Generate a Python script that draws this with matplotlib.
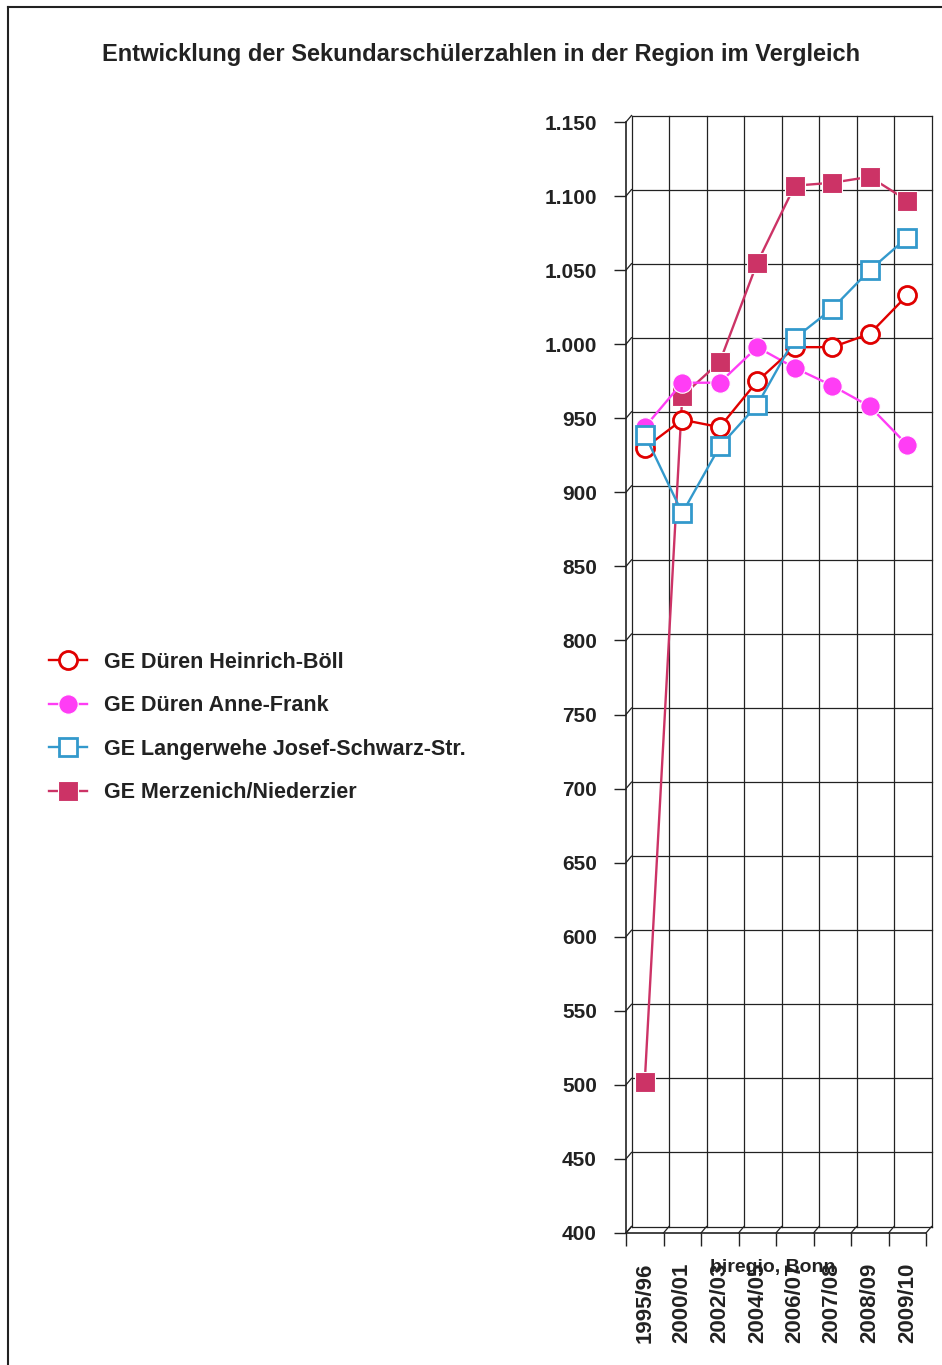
import numpy as np
import matplotlib.pyplot as plt
from matplotlib.lines import Line2D

plt.rcParams['font.family'] = ['Liberation Sans', 'DejaVu Sans']

years = ['1995/96', '2000/01', '2002/03', '2004/05', '2006/07', '2007/08', '2008/09', '2009/10']

boell = [930, 949, 944, 975, 998, 998, 1007, 1033]
anne_frank = [944, 974, 974, 998, 984, 972, 958, 932]
langerwehe = [939, 886, 931, 959, 1004, 1024, 1050, 1072]
merzenich = [502, 965, 988, 1055, 1107, 1109, 1113, 1097]

names = ['GE Düren Heinrich-Böll', 'GE Düren Anne-Frank',
         'GE Langerwehe Josef-Schwarz-Str.', 'GE Merzenich/Niederzier']

yticks = np.arange(400, 1151, 50)
ytick_labels = ['{:,}'.format(v).replace(',', '.') for v in yticks]

W, H = 942, 1365
fig = plt.figure(figsize=(W / 100, H / 100), dpi=100)

# frame (only top and left edges visible in the reference)
fig.add_artist(Line2D([8 / W, 8 / W], [0, 1 - 7 / H], transform=fig.transFigure, color='#222222', lw=1.5))
fig.add_artist(Line2D([8 / W, 1], [1 - 7 / H, 1 - 7 / H], transform=fig.transFigure, color='#222222', lw=1.5))

fig.text(481 / W, 1 - 54 / H, 'Entwicklung der Sekundarschülerzahlen in der Region im Vergleich',
         ha='center', va='center', fontsize=17, fontweight='bold', color='#222222')

left, right, top, bottom = 626, 926, 122, 1233
ax = fig.add_axes([left / W, 1 - bottom / H, (right - left) / W, (bottom - top) / H])
ax.set_xlim(0, len(years))
ax.set_ylim(400, 1150)

# back wall offset of the pseudo 3D grid
dx = 5.5 / ((right - left) / len(years))
dy = 6.5 / ((bottom - top) / 750)
gcol = '#222222'
for v in yticks:
    ax.plot([dx, len(years) + dx], [v + dy, v + dy], color=gcol, lw=0.9, clip_on=False, zorder=1)
    ax.plot([0, dx], [v, v + dy], color=gcol, lw=0.9, clip_on=False, zorder=1)
for i in range(len(years) + 1):
    ax.plot([i + dx, i + dx], [400 + dy, 1150 + dy], color=gcol, lw=0.9, clip_on=False, zorder=1)
    ax.plot([i, i + dx], [400, 400 + dy], color=gcol, lw=0.9, clip_on=False, zorder=1)

x = np.arange(len(years)) + 0.5
ax.plot(x, boell, color='#E00000', lw=1.7, marker='o', ms=13, mfc='white', mec='#E00000', mew=2,
        label=names[0], zorder=4, clip_on=False)
ax.plot(x, anne_frank, color='#FF3DF5', lw=1.7, marker='o', ms=14, mfc='#FF3DF5', mec='white', mew=0.8,
        label=names[1], zorder=3, clip_on=False)
ax.plot(x, langerwehe, color='#3399CC', lw=1.7, marker='s', ms=12.5, mfc='white', mec='#3399CC', mew=2,
        label=names[2], zorder=5, clip_on=False)
ax.plot(x, merzenich, color='#CC3366', lw=1.7, marker='s', ms=14, mfc='#CC3366', mec='white', mew=0.8,
        label=names[3], zorder=2, clip_on=False)

ax.set_yticks(yticks)
ax.set_yticklabels(ytick_labels)
ax.set_xticks(np.arange(len(years) + 1))
ax.set_xticklabels([])
ax.set_xticks(x, minor=True)
ax.set_xticklabels(years, minor=True, rotation=90, va='top')
ax.tick_params(axis='x', which='minor', length=0, pad=21)
ax.tick_params(axis='x', which='major', length=9, width=1, direction='out', color=gcol)
ax.tick_params(axis='y', length=9, width=1, direction='out', color=gcol, pad=12)
for lab in ax.get_yticklabels():
    lab.set_fontsize(15)
    lab.set_fontweight('bold')
    lab.set_color('#222222')
for lab in ax.get_xticklabels(minor=True):
    lab.set_fontsize(16)
    lab.set_fontweight('bold')
    lab.set_color('#222222')

for s in ['top', 'right']:
    ax.spines[s].set_visible(False)
for s in ['left', 'bottom']:
    ax.spines[s].set_color(gcol)
    ax.spines[s].set_linewidth(1.2)
ax.patch.set_alpha(0)

fig.text(773 / W, 1 - 1267 / H, 'biregio, Bonn', ha='center', va='center', fontsize=14,
         fontweight='bold', color='#222222')

leg = ax.legend(loc='upper left', bbox_to_anchor=(40 / W, 1 - 643 / H), bbox_transform=fig.transFigure,
                frameon=False, fontsize=15.5, handlelength=1.8, handletextpad=0.75, labelspacing=1.05,
                borderaxespad=0)
for t in leg.get_texts():
    t.set_fontweight('bold')
    t.set_color('#222222')

fig.savefig('out.png', dpi=100)
